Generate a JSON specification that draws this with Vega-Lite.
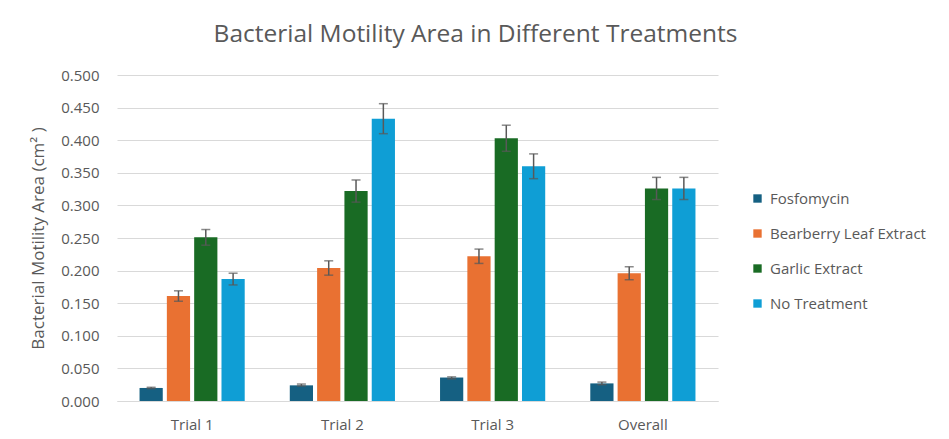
{
  "$schema": "https://vega.github.io/schema/vega-lite/v6.json",
  "width": 601,
  "height": 326,
  "autosize": {"type": "none"},
  "padding": {"left": 117, "top": 75, "right": 231, "bottom": 38},
  "background": "white",
  "title": {
    "text": "Bacterial Motility Area in Different Treatments",
    "fontSize": 24.5,
    "font": "Open Sans",
    "fontWeight": "normal",
    "color": "#595959",
    "anchor": "middle",
    "dx": 58,
    "offset": 21
  },
  "config": {
    "font": "Open Sans",
    "view": {"stroke": null},
    "axis": {"labelColor": "#595959", "titleColor": "#595959", "labelFontSize": 15, "titleFontSize": 17, "titleFontWeight": "normal"},
    "axisY": {
      "labelOverlap": false,
      "tickCount": 20,
      "domain": false,
      "ticks": false,
      "gridColor": "#D9D9D9",
      "gridWidth": 1,
      "labelPadding": 18,
      "titlePadding": 13
    },
    "axisX": {"labelAngle": 0, "ticks": false, "domainColor": "#D9D9D9", "domainWidth": 1, "labelPadding": 16}
  },
  "data": {
    "values": [
      {"trial": "Trial 1", "treatment": "Fosfomycin", "value": 0.020, "lo": 0.019, "hi": 0.021},
      {"trial": "Trial 1", "treatment": "Bearberry Leaf Extract", "value": 0.161, "lo": 0.153, "hi": 0.169},
      {"trial": "Trial 1", "treatment": "Garlic Extract", "value": 0.251, "lo": 0.239, "hi": 0.263},
      {"trial": "Trial 1", "treatment": "No Treatment", "value": 0.187, "lo": 0.178, "hi": 0.196},
      {"trial": "Trial 2", "treatment": "Fosfomycin", "value": 0.024, "lo": 0.023, "hi": 0.026},
      {"trial": "Trial 2", "treatment": "Bearberry Leaf Extract", "value": 0.204, "lo": 0.193, "hi": 0.215},
      {"trial": "Trial 2", "treatment": "Garlic Extract", "value": 0.322, "lo": 0.305, "hi": 0.339},
      {"trial": "Trial 2", "treatment": "No Treatment", "value": 0.433, "lo": 0.410, "hi": 0.456},
      {"trial": "Trial 3", "treatment": "Fosfomycin", "value": 0.036, "lo": 0.034, "hi": 0.037},
      {"trial": "Trial 3", "treatment": "Bearberry Leaf Extract", "value": 0.222, "lo": 0.211, "hi": 0.233},
      {"trial": "Trial 3", "treatment": "Garlic Extract", "value": 0.403, "lo": 0.383, "hi": 0.423},
      {"trial": "Trial 3", "treatment": "No Treatment", "value": 0.360, "lo": 0.341, "hi": 0.379},
      {"trial": "Overall", "treatment": "Fosfomycin", "value": 0.027, "lo": 0.025, "hi": 0.029},
      {"trial": "Overall", "treatment": "Bearberry Leaf Extract", "value": 0.196, "lo": 0.186, "hi": 0.206},
      {"trial": "Overall", "treatment": "Garlic Extract", "value": 0.326, "lo": 0.309, "hi": 0.343},
      {"trial": "Overall", "treatment": "No Treatment", "value": 0.326, "lo": 0.309, "hi": 0.343}
    ]
  },
  "encoding": {
    "x": {
      "field": "trial",
      "type": "nominal",
      "sort": ["Trial 1", "Trial 2", "Trial 3", "Overall"],
      "scale": {"paddingInner": 0.3, "paddingOuter": 0.15},
      "axis": {"title": null}
    },
    "xOffset": {
      "field": "treatment",
      "type": "nominal",
      "sort": ["Fosfomycin", "Bearberry Leaf Extract", "Garlic Extract", "No Treatment"],
      "scale": {"paddingInner": 0.15}
    }
  },
  "layer": [
    {
      "mark": {"type": "bar"},
      "encoding": {
        "y": {
          "field": "value",
          "type": "quantitative",
          "scale": {"domain": [0, 0.5], "nice": false},
          "axis": {
            "title": "Bacterial Motility Area (cm² )",
            "format": ".3f",
            "tickCount": 20,
            "values": [0, 0.05, 0.1, 0.15, 0.2, 0.25, 0.3, 0.35, 0.4, 0.45, 0.5]
          }
        },
        "color": {
          "field": "treatment",
          "type": "nominal",
          "sort": ["Fosfomycin", "Bearberry Leaf Extract", "Garlic Extract", "No Treatment"],
          "scale": {
            "domain": ["Fosfomycin", "Bearberry Leaf Extract", "Garlic Extract", "No Treatment"],
            "range": ["#156082", "#E97132", "#196B24", "#0F9ED5"]
          },
          "legend": {
            "title": null,
            "orient": "none",
            "legendX": 633,
            "legendY": 116,
            "symbolType": "square",
            "symbolSize": 70,
            "symbolStrokeWidth": 0,
            "labelFontSize": 15,
            "labelLimit": 300,
            "labelColor": "#595959",
            "labelOffset": 5,
            "rowPadding": 19
          }
        }
      }
    },
    {
      "mark": {"type": "rule", "color": "#595959", "strokeWidth": 1.5},
      "encoding": {
        "y": {
          "field": "lo",
          "type": "quantitative",
          "axis": {
            "title": "Bacterial Motility Area (cm² )",
            "format": ".3f",
            "tickCount": 20,
            "values": [0, 0.05, 0.1, 0.15, 0.2, 0.25, 0.3, 0.35, 0.4, 0.45, 0.5]
          }
        },
        "y2": {"field": "hi"}
      }
    },
    {
      "mark": {"type": "tick", "color": "#595959", "thickness": 1.5, "size": 9, "orient": "horizontal"},
      "encoding": {
        "y": {
          "field": "lo",
          "type": "quantitative",
          "axis": {
            "title": "Bacterial Motility Area (cm² )",
            "format": ".3f",
            "tickCount": 20,
            "values": [0, 0.05, 0.1, 0.15, 0.2, 0.25, 0.3, 0.35, 0.4, 0.45, 0.5]
          }
        }
      }
    },
    {
      "mark": {"type": "tick", "color": "#595959", "thickness": 1.5, "size": 9, "orient": "horizontal"},
      "encoding": {
        "y": {
          "field": "hi",
          "type": "quantitative",
          "axis": {
            "title": "Bacterial Motility Area (cm² )",
            "format": ".3f",
            "tickCount": 20,
            "values": [0, 0.05, 0.1, 0.15, 0.2, 0.25, 0.3, 0.35, 0.4, 0.45, 0.5]
          }
        }
      }
    }
  ]
}
